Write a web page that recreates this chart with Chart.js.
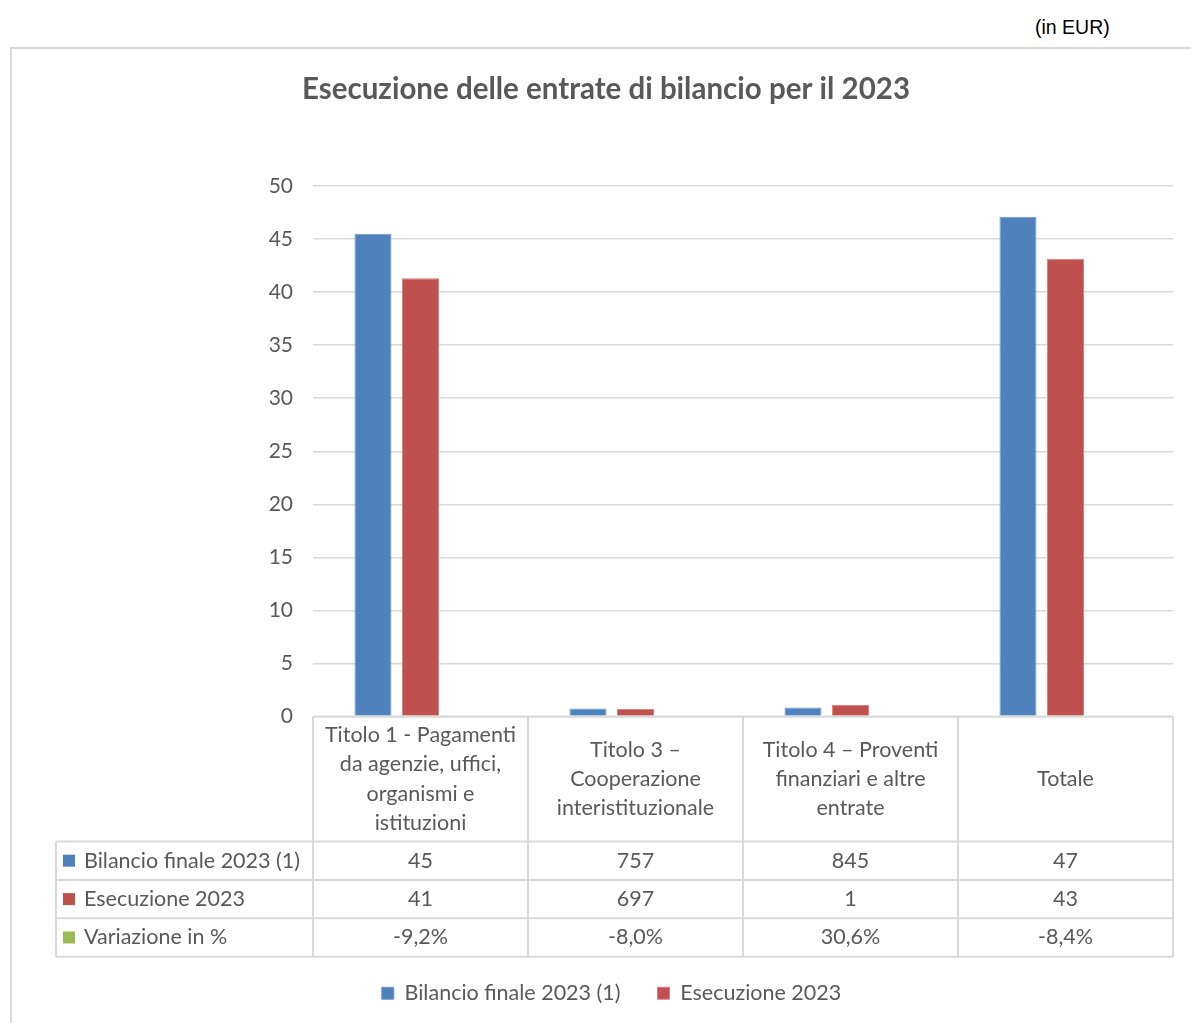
<!DOCTYPE html>
<html>
<head>
<meta charset="utf-8">
<script src="https://cdn.jsdelivr.net/npm/chart.js@4"></script>
<style>
  body { margin: 0; background: #fff; overflow: hidden; }
  #unit { position: absolute; left: 1035px; top: 16px; font: 19.5px "Liberation Sans", Arial, sans-serif; color: #000; }
  #box { position: absolute; left: 10px; top: 47px; width: 1186px; height: 996px; border: 2px solid #d9d9d9; }
  canvas { display: block; }
</style>
</head>
<body>
<div id="unit">(in EUR)</div>
<div id="box"><canvas id="entrateChart" width="1186" height="996"></canvas></div>
<script>
const chartTitle = "Esecuzione delle entrate di bilancio per il 2023";
const categories = [
  ["Titolo 1 - Pagamenti", "da agenzie, uffici,", "organismi e", "istituzioni"],
  ["Titolo 3 –", "Cooperazione", "interistituzionale"],
  ["Titolo 4 – Proventi", "finanziari e altre", "entrate"],
  ["Totale"]
];
const seriesNames = ["Bilancio finale 2023 (1)", "Esecuzione 2023", "Variazione in %"];
const seriesColors = ["#4F81BD", "#C0504D", "#9BBB59"];

// bar heights
const bilancio = [45.5, 0.757, 0.845, 47.1];
const esecuzione = [41.3, 0.697, 1.104, 43.15];
const variazione = [-9.2, -8.0, 30.6, -8.4];

// what the data table prints
const bilancioText = ["45", "757", "845", "47"];
const esecuzioneText = ["41", "697", "1", "43"];
const variazioneText = variazione.map((v) => v.toFixed(1).replace(".", ",") + "%");

const textColor = "#595959";
const lineColor = "#d9d9d9";
const font = "Lato, 'Noto Sans', sans-serif";

// title centred on the whole box, not on the padded layout
const boxTitle = {
  id: "boxTitle",
  afterLayout(chart) {
    // legend sits centred on the full box too
    chart.legend.left += 19;
    chart.legend.right += 19;
  },
  afterDraw(chart) {
    const ctx = chart.ctx;
    ctx.save();
    ctx.fillStyle = textColor;
    ctx.font = "bold 29.5px " + font;
    ctx.textAlign = "center";
    ctx.textBaseline = "middle";
    ctx.fillText(chartTitle, chart.width / 2 + 1, 40);
    ctx.restore();
  }
};

// draws the Excel-like data table under the plot
const dataTable = {
  id: "dataTable",
  afterDraw(chart) {
    const ctx = chart.ctx;
    const area = chart.chartArea;
    const x = chart.scales.x;
    const colW = (area.right - area.left) / categories.length;
    const headerH = 125;
    const rowH = 38.4;
    const top = area.bottom;
    const rowsTop = top + headerH;
    const bottom = rowsTop + rowH * 3;
    const leftEdge = 44;

    ctx.save();
    ctx.strokeStyle = lineColor;
    ctx.lineWidth = 2;
    ctx.beginPath();
    ctx.moveTo(area.left, top);
    ctx.lineTo(area.right, top);
    for (let r = 0; r <= 3; r++) {
      ctx.moveTo(leftEdge, rowsTop + r * rowH);
      ctx.lineTo(area.right, rowsTop + r * rowH);
    }
    for (let c = 0; c <= categories.length; c++) {
      ctx.moveTo(area.left + c * colW, top);
      ctx.lineTo(area.left + c * colW, bottom);
    }
    ctx.moveTo(leftEdge, rowsTop);
    ctx.lineTo(leftEdge, bottom);
    ctx.stroke();

    ctx.fillStyle = textColor;
    ctx.font = "21.5px " + font;
    ctx.textAlign = "center";
    ctx.textBaseline = "middle";
    const lh = 29.4;
    const headMid = top + headerH / 2;
    categories.forEach((lines, i) => {
      const cx = x.getPixelForValue(i);
      const y0 = headMid - ((lines.length - 1) * lh) / 2;
      lines.forEach((t, k) => ctx.fillText(t, cx, y0 + k * lh));
    });

    const rows = [bilancioText, esecuzioneText, variazioneText];
    rows.forEach((vals, r) => {
      const cy = rowsTop + r * rowH + rowH / 2;
      ctx.textAlign = "center";
      vals.forEach((v, i) => ctx.fillText(v, x.getPixelForValue(i), cy));
      ctx.fillStyle = seriesColors[r];
      ctx.fillRect(leftEdge + 7, cy - 6, 12, 12);
      ctx.fillStyle = textColor;
      ctx.textAlign = "left";
      ctx.fillText(seriesNames[r], leftEdge + 28, cy);
    });
    ctx.restore();
  }
};

new Chart(document.getElementById("entrateChart"), {
  type: "bar",
  data: {
    labels: categories,
    datasets: [
      {
        label: seriesNames[0],
        data: bilancio,
        backgroundColor: seriesColors[0],
        borderColor: "#7199cc",
        borderWidth: 1,
        categoryPercentage: 0.663,
        barPercentage: 0.78,
      },
      {
        label: seriesNames[1],
        data: esecuzione,
        backgroundColor: seriesColors[1],
        borderColor: "#d9807e",
        borderWidth: 1,
        categoryPercentage: 0.663,
        barPercentage: 0.78,
      },
      {
        label: seriesNames[2],
        data: variazione,
        backgroundColor: "rgba(0,0,0,0)",
        borderWidth: 0,
        categoryPercentage: 0.663,
        barPercentage: 0.78,
      },
    ],
  },
  options: {
    responsive: false,
    animation: false,
    layout: { padding: { left: 0, right: 25, top: 137, bottom: 31 } },
    plugins: {
      title: { display: false },
      legend: {
        position: "bottom",
        labels: {
          color: textColor,
          font: { family: font, size: 21.5 },
          boxWidth: 12,
          boxHeight: 12,
          padding: 37,
          filter: (item) => item.datasetIndex < 2,
        },
      },
      tooltip: { enabled: false },
    },
    scales: {
      x: {
        ticks: { display: false },
        grid: { display: false },
        border: { display: false },
        afterFit: (scale) => { scale.height = 229; },
      },
      y: {
        min: 0,
        max: 50,
        ticks: { stepSize: 5, color: textColor, font: { family: font, size: 21 }, padding: 20 },
        grid: { color: lineColor, lineWidth: 1.5, drawTicks: false },
        border: { display: false },
        afterFit: (scale) => { scale.width = 301; },
      },
    },
  },
  plugins: [boxTitle, dataTable],
});
</script>
</body>
</html>
